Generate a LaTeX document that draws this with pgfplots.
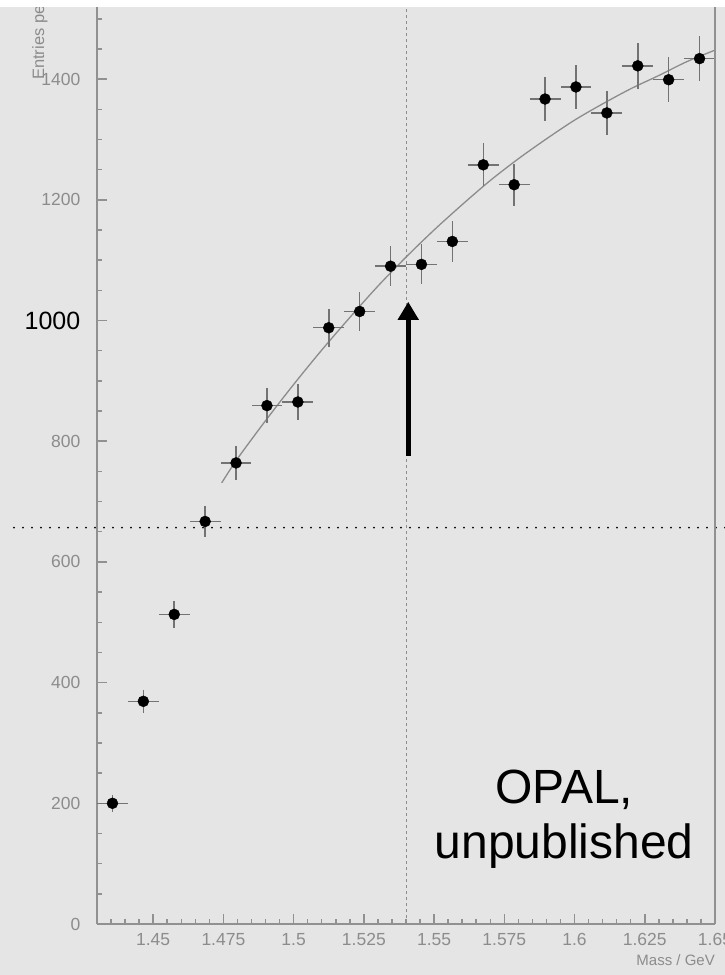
\documentclass[border=0pt]{standalone}
\usepackage{fontspec}
\setmainfont{Liberation Sans}
\usepackage{pgfplots}
\pgfplotsset{compat=1.18}
\usepackage{pgfplotstable}
\usetikzlibrary{arrows.meta}
\definecolor{bggray}{RGB}{229,229,229}
\definecolor{axgray}{RGB}{145,145,145}
\definecolor{lblgray}{RGB}{140,140,140}
\definecolor{errgray}{RGB}{115,115,115}
\definecolor{fitgray}{RGB}{140,140,140}

\pgfplotstableread{
x        y     ex      ey
1.4355   200   0.0055  14.1
1.4465   369   0.0055  19.2
1.4575   513   0.0055  22.6
1.4685   667   0.0055  25.8
1.4795   764   0.0055  27.6
1.4905   859   0.0055  29.3
1.5015   865   0.0055  29.4
1.5125   988   0.0055  31.4
1.5235   1015  0.0055  31.9
1.5345   1090  0.0055  33.0
1.5455   1093  0.0055  33.1
1.5565   1131  0.0055  33.6
1.5675   1258  0.0055  35.5
1.5785   1225  0.0055  35.0
1.5895   1367  0.0055  37.0
1.6005   1387  0.0055  37.2
1.6115   1344  0.0055  36.7
1.6225   1422  0.0055  37.7
1.6335   1399  0.0055  37.4
1.6445   1434  0.0055  37.9
}\datatable

\pgfplotstableread{
x       y
1.4744  731
1.48    771
1.49    834
1.50    894
1.51    951
1.52    1005
1.53    1057
1.54    1105
1.55    1150
1.56    1192
1.57    1232
1.58    1268
1.59    1301
1.60    1332
1.61    1359
1.62    1384
1.63    1406
1.64    1429
1.65    1448
}\fittable

\begin{document}
\begin{tikzpicture}
\fill[bggray] (-97pt,-51pt) rectangle (628pt,924pt);
\begin{axis}[
  at={(0,0)}, anchor=south west,
  scale only axis,
  width=618pt, height=917pt,
  xmin=1.43, xmax=1.65,
  ymin=0, ymax=1519.5,
  clip=false,
  axis x line*=bottom,
  axis y line*=left,
  axis line style={axgray, line width=1.8pt},
  xtick={1.45,1.475,1.5,1.525,1.55,1.575,1.6,1.625,1.65},
  xticklabels={1.45,1.475,1.5,1.525,1.55,1.575,1.6,1.625,1.65},
  minor xtick={1.435,1.44,1.445,1.455,1.46,1.465,1.47,1.48,1.485,1.49,1.495,1.505,1.51,1.515,1.52,1.53,1.535,1.54,1.545,1.555,1.56,1.565,1.57,1.58,1.585,1.59,1.595,1.605,1.61,1.615,1.62,1.63,1.635,1.64,1.645},
  ytick={0,200,400,600,800,1000,1200,1400},
  yticklabels={0,200,400,600,800,{\textcolor{black}{\fontsize{25}{28}\selectfont 1000}},1200,1400},
  minor ytick={50,100,150,250,300,350,450,500,550,650,700,750,850,900,950,1050,1100,1150,1250,1300,1350,1450,1500},
  tick align=inside,
  major tick length=10pt,
  minor tick length=5pt,
  tick style={axgray, line width=1.5pt},
  minor tick style={axgray, line width=1.5pt},
  /pgf/number format/assume math mode=true,
  ticklabel style={font=\fontsize{17.5}{20}\selectfont, text=lblgray},
  xticklabel style={inner sep=0pt, yshift=-9pt},
  yticklabel style={inner sep=0pt, xshift=-16.5pt},
]
% vertical dashed line
\addplot[fitgray, line width=1pt, dash pattern=on 3pt off 3pt] coordinates {(1.5403,0) (1.5403,1519.5)};
% horizontal dotted line
\addplot[black, line width=2pt, dash pattern=on 0pt off 9pt, line cap=round] coordinates {(1.40045,656.7) (1.65356,656.7)};
% fit curve
\addplot[fitgray, line width=1.3pt, smooth] table[x=x,y=y] {\fittable};
% data with error bars
\addplot[only marks, mark=*, mark size=5.5pt, mark options={black, fill=black},
  error bars/.cd, x dir=both, x explicit, y dir=both, y explicit,
  error bar style={errgray, line width=1.5pt}, error mark=none]
  table[x=x, y=y, x error=ex, y error=ey] {\datatable};
% arrow
\draw[black, line width=5pt, -{Triangle[width=20pt,length=18pt]}] (axis cs:1.5408,775.5) -- (axis cs:1.5408,1031);
% labels
\node[rotate=90, anchor=west, inner sep=0pt, text=lblgray, font=\fontsize{16.5}{18}\selectfont] at (axis cs:1.4097,1398.5) {Entries per 0.011 GeV};
\node[anchor=east, inner sep=0pt, text=lblgray, font=\fontsize{15}{17}\selectfont] at ([yshift=-36pt]rel axis cs:1,0) {Mass / GeV};
\node[align=center, inner sep=0pt, font=\fontsize{48}{55}\selectfont, anchor=base] at (axis cs:1.5963,109) {OPAL,\\unpublished};
\end{axis}
\draw[axgray, line width=1.8pt] (618pt,0pt) -- (618pt,917pt);
\fill[white] (-97pt,917pt) rectangle (628pt,924pt);
\pgfresetboundingbox
\useasboundingbox (-97pt,-51pt) rectangle (628pt,924pt);
\end{tikzpicture}
\end{document}
